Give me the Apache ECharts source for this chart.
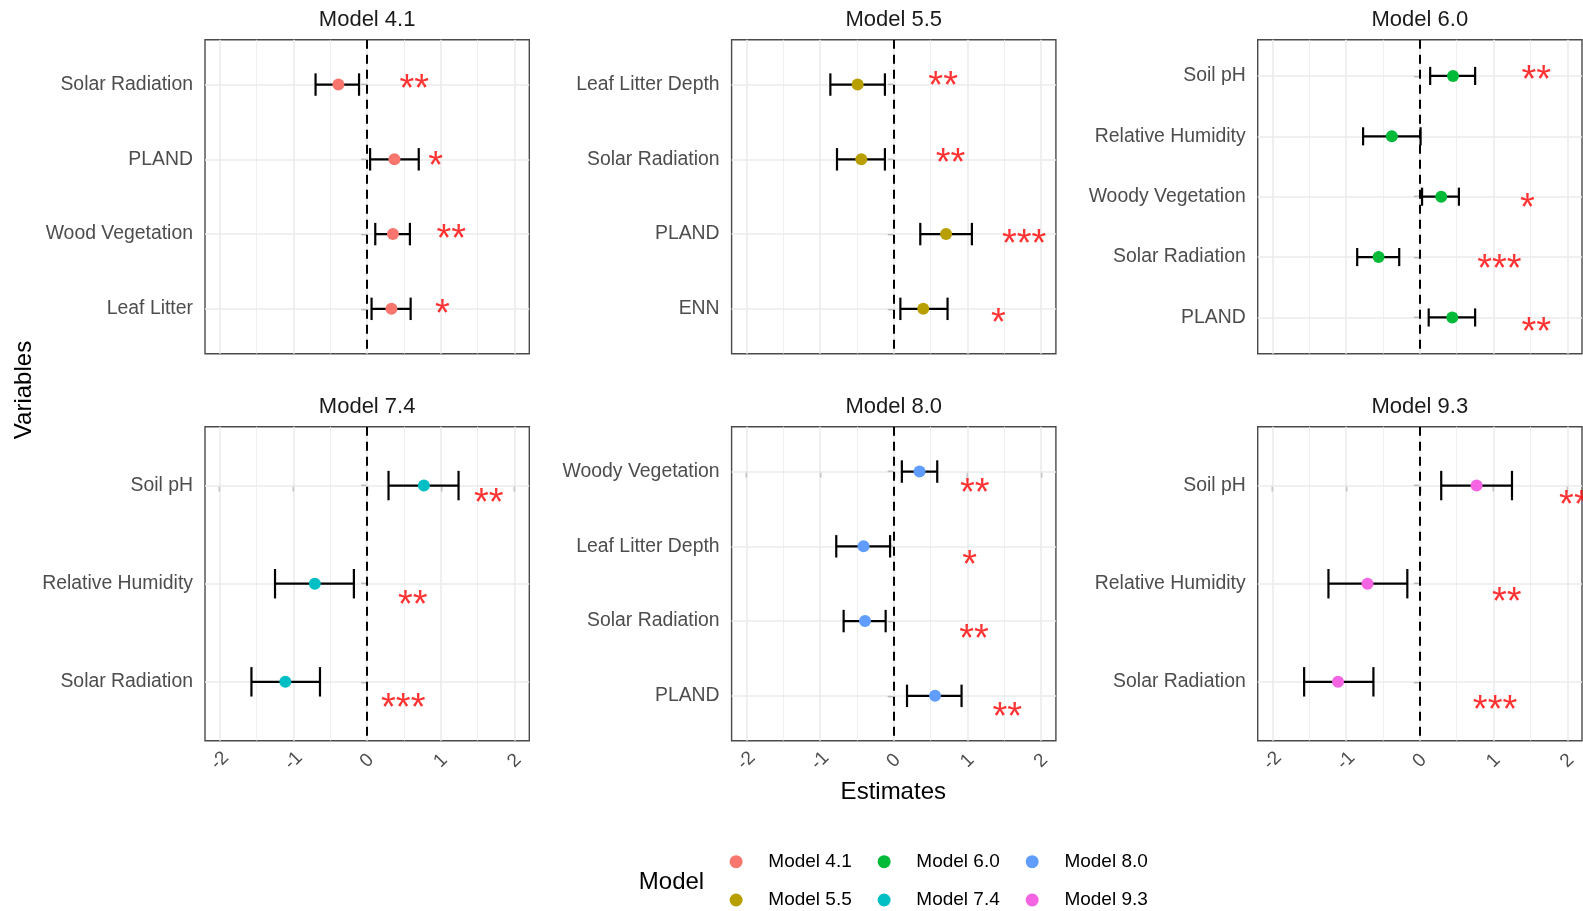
<!DOCTYPE html>
<html>
<head>
<meta charset="utf-8">
<title>Model estimates</title>
<script src="https://cdn.jsdelivr.net/npm/echarts@6/dist/echarts.min.js"></script>
<style>
  html, body { margin: 0; padding: 0; background: #fff; }
  #chart { width: 1583px; height: 911px; }
</style>
</head>
<body>
<div id="chart"></div>
<script>
// values; variables listed top -> bottom
var modelNames = ['Model 4.1', 'Model 5.5', 'Model 6.0', 'Model 7.4', 'Model 8.0', 'Model 9.3'];
var modelColors = ['#F8766D', '#B79F00', '#00BA38', '#00BFC4', '#619CFF', '#F564E3'];

var m41Vars = ['Solar Radiation', 'PLAND', 'Wood Vegetation', 'Leaf Litter'];
var m41Est = [-0.39, 0.37, 0.35, 0.33];
var m41Lo = [-0.70, 0.04, 0.11, 0.06];
var m41Hi = [-0.11, 0.70, 0.58, 0.59];
var m41Sig = ['**', '*', '**', '*'];
var m41SigX = [0.64, 0.93, 1.14, 1.02];
var m41SigY = [-0.02, 1.02, 1.99, 2.99];

var m55Vars = ['Leaf Litter Depth', 'Solar Radiation', 'PLAND', 'ENN'];
var m55Est = [-0.49, -0.44, 0.71, 0.40];
var m55Lo = [-0.86, -0.77, 0.36, 0.09];
var m55Hi = [-0.12, -0.12, 1.06, 0.73];
var m55Sig = ['**', '**', '***', '*'];
var m55SigX = [0.67, 0.77, 1.77, 1.42];
var m55SigY = [-0.06, 0.97, 2.06, 3.12];

var m60Vars = ['Soil pH', 'Relative Humidity', 'Woody Vegetation', 'Solar Radiation', 'PLAND'];
var m60Est = [0.45, -0.38, 0.29, -0.56, 0.44];
var m60Lo = [0.14, -0.77, 0.03, -0.85, 0.12];
var m60Hi = [0.75, 0.01, 0.53, -0.28, 0.75];
var m60Sig = ['**', '', '*', '***', '**'];
var m60SigX = [1.58, 0, 1.46, 1.08, 1.58];
var m60SigY = [-0.02, 0, 2.09, 3.11, 4.15];

var m74Vars = ['Soil pH', 'Relative Humidity', 'Solar Radiation'];
var m74Est = [0.77, -0.71, -1.11];
var m74Lo = [0.29, -1.25, -1.57];
var m74Hi = [1.24, -0.18, -0.64];
var m74Sig = ['**', '**', '***'];
var m74SigX = [1.65, 0.62, 0.49];
var m74SigY = [0.12, 1.16, 2.21];

var m80Vars = ['Woody Vegetation', 'Leaf Litter Depth', 'Solar Radiation', 'PLAND'];
var m80Est = [0.35, -0.41, -0.39, 0.56];
var m80Lo = [0.11, -0.78, -0.68, 0.18];
var m80Hi = [0.59, -0.05, -0.11, 0.92];
var m80Sig = ['**', '*', '**', '**'];
var m80SigX = [1.10, 1.03, 1.09, 1.54];
var m80SigY = [0.21, 1.18, 2.17, 3.21];

var m93Vars = ['Soil pH', 'Relative Humidity', 'Solar Radiation'];
var m93Est = [0.77, -0.71, -1.11];
var m93Lo = [0.29, -1.24, -1.57];
var m93Hi = [1.25, -0.17, -0.63];
var m93Sig = ['**', '**', '***'];
var m93SigX = [2.09, 1.18, 1.02];
var m93SigY = [0.14, 1.13, 2.23];

var xTicks = [-2, -1, 0, 1, 2];
var xMinor = [-1.5, -0.5, 0.5, 1.5];

var panels = [
  {vars: m41Vars, est: m41Est, lo: m41Lo, hi: m41Hi, sig: m41Sig, sx: m41SigX, sy: m41SigY},
  {vars: m55Vars, est: m55Est, lo: m55Lo, hi: m55Hi, sig: m55Sig, sx: m55SigX, sy: m55SigY},
  {vars: m60Vars, est: m60Est, lo: m60Lo, hi: m60Hi, sig: m60Sig, sx: m60SigX, sy: m60SigY},
  {vars: m74Vars, est: m74Est, lo: m74Lo, hi: m74Hi, sig: m74Sig, sx: m74SigX, sy: m74SigY},
  {vars: m80Vars, est: m80Est, lo: m80Lo, hi: m80Hi, sig: m80Sig, sx: m80SigX, sy: m80SigY},
  {vars: m93Vars, est: m93Est, lo: m93Lo, hi: m93Hi, sig: m93Sig, sx: m93SigX, sy: m93SigY}
];

var FONT = '"Liberation Sans", Arial, sans-serif';
var panelLeft = [205, 731.6, 1257.7];
var panelTop = [39.7, 426.7];
var panelW = 324.3;
var panelH = 314;

function renderErrorBar(params, api) {
  var y = api.value(2);
  var a = api.coord([api.value(0), y]);
  var b = api.coord([api.value(1), y]);
  var half = Math.abs(api.size([0, 0.3])[1]) / 2;
  var st = {stroke: '#000', lineWidth: 2.2};
  return {
    type: 'group',
    children: [
      {type: 'line', shape: {x1: a[0], y1: a[1], x2: b[0], y2: b[1]}, style: st},
      {type: 'line', shape: {x1: a[0], y1: a[1] - half, x2: a[0], y2: a[1] + half}, style: st},
      {type: 'line', shape: {x1: b[0], y1: b[1] - half, x2: b[0], y2: b[1] + half}, style: st}
    ]
  };
}

var grids = [], xAxes = [], yAxes = [], series = [], graphics = [];

panels.forEach(function (p, i) {
  var col = i % 3, row = Math.floor(i / 3);
  var n = p.vars.length;
  var idx = p.vars.map(function (v, k) { return k; });

  grids.push({
    left: panelLeft[col], top: panelTop[row], width: panelW, height: panelH,
    show: true, backgroundColor: '#fff', borderColor: '#4a4a4a', borderWidth: 1.4
  });

  xAxes.push({
    gridIndex: i, type: 'value', min: -2.2, max: 2.2,
    splitLine: {show: false},
    axisLine: {show: false},
    axisTick: row === 1 ? {show: true, customValues: xTicks, length: 6, lineStyle: {color: '#333', width: 1.3}} : {show: false},
    axisLabel: row === 1 ? {
      show: true, customValues: xTicks, rotate: 45, align: 'center', verticalAlign: 'middle',
      margin: 20, fontSize: 19, color: '#4d4d4d', fontFamily: FONT
    } : {show: false}
  });

  yAxes.push({
    gridIndex: i, type: 'value', inverse: true, min: -0.6, max: n - 0.4,
    splitLine: {show: false},
    axisLine: {show: false},
    axisTick: {show: true, customValues: idx, length: 6, lineStyle: {color: '#333', width: 1.3}},
    axisLabel: {
      show: true, customValues: idx, margin: 12, fontSize: 19.4, color: '#4d4d4d', fontFamily: FONT,
      formatter: function (v) { return p.vars[Math.round(v)]; }
    }
  });

  // panel grid lines + dashed zero line, kept underneath the marks
  var ml = [];
  xMinor.forEach(function (v) { ml.push({xAxis: v, lineStyle: {color: '#ebebeb', width: 0.8, type: 'solid'}}); });
  xTicks.forEach(function (v) { ml.push({xAxis: v, lineStyle: {color: '#ebebeb', width: 1.6, type: 'solid'}}); });
  idx.forEach(function (k) { ml.push({yAxis: k, lineStyle: {color: '#ebebeb', width: 1.6, type: 'solid'}}); });
  ml.push({xAxis: 0, lineStyle: {color: '#000', width: 2, type: [9, 6]}});
  series.push({
    type: 'scatter', xAxisIndex: i, yAxisIndex: i, data: [], silent: true, z: 1,
    markLine: {silent: true, z: 1, symbol: ['none', 'none'], label: {show: false}, animation: false, data: ml}
  });

  series.push({
    type: 'custom', xAxisIndex: i, yAxisIndex: i, z: 3, silent: true,
    renderItem: renderErrorBar,
    encode: {x: [0, 1], y: 2},
    data: idx.map(function (k) { return [p.lo[k], p.hi[k], k]; })
  });

  series.push({
    type: 'scatter', name: modelNames[i], xAxisIndex: i, yAxisIndex: i, z: 4,
    symbolSize: 12, itemStyle: {color: modelColors[i], opacity: 1},
    data: idx.map(function (k) { return [p.est[k], k]; })
  });

  var stars = [];
  idx.forEach(function (k) {
    if (p.sig[k]) stars.push({name: p.sig[k], value: [p.sx[k], p.sy[k]]});
  });
  series.push({
    type: 'scatter', xAxisIndex: i, yAxisIndex: i, z: 5, silent: true, clip: false,
    symbolSize: 1, itemStyle: {color: 'rgba(0,0,0,0)'},
    label: {show: true, position: 'inside', formatter: '{b}', color: '#ff0000',
            fontSize: 38, fontFamily: FONT, offset: [0, 7]},
    data: stars
  });

  graphics.push({
    type: 'text', x: panelLeft[col] + panelW / 2, y: row === 0 ? 20 : 406.5,
    style: {text: modelNames[i], font: '22px ' + FONT, fill: '#1a1a1a', textAlign: 'center', textVerticalAlign: 'middle'}
  });
});

graphics.push({
  type: 'text', x: 24, y: 390, rotation: Math.PI / 2,
  style: {text: 'Variables', font: '24px ' + FONT, fill: '#000', textAlign: 'center', textVerticalAlign: 'middle'}
});
graphics.push({
  type: 'text', x: 893.3, y: 792,
  style: {text: 'Estimates', font: '24px ' + FONT, fill: '#000', textAlign: 'center', textVerticalAlign: 'middle'}
});
graphics.push({
  type: 'text', x: 638.8, y: 882.7,
  style: {text: 'Model', font: '24px ' + FONT, fill: '#000', textAlign: 'left', textVerticalAlign: 'middle'}
});

function legendRow(names, top) {
  return {
    data: names, left: 729.6, top: top, orient: 'horizontal', padding: 0,
    icon: 'circle', itemWidth: 54.4, itemHeight: 13, itemGap: 25.9, selectedMode: false,
    textStyle: {fontSize: 19, color: '#000', fontFamily: FONT, lineHeight: 20}
  };
}

var chart = echarts.init(document.getElementById('chart'));
chart.setOption({
  animation: false,
  backgroundColor: '#fff',
  grid: grids,
  xAxis: xAxes,
  yAxis: yAxes,
  legend: [
    legendRow(['Model 4.1', 'Model 6.0', 'Model 8.0'], 851.7),
    legendRow(['Model 5.5', 'Model 7.4', 'Model 9.3'], 890)
  ],
  graphic: graphics,
  series: series
});
</script>
</body>
</html>
